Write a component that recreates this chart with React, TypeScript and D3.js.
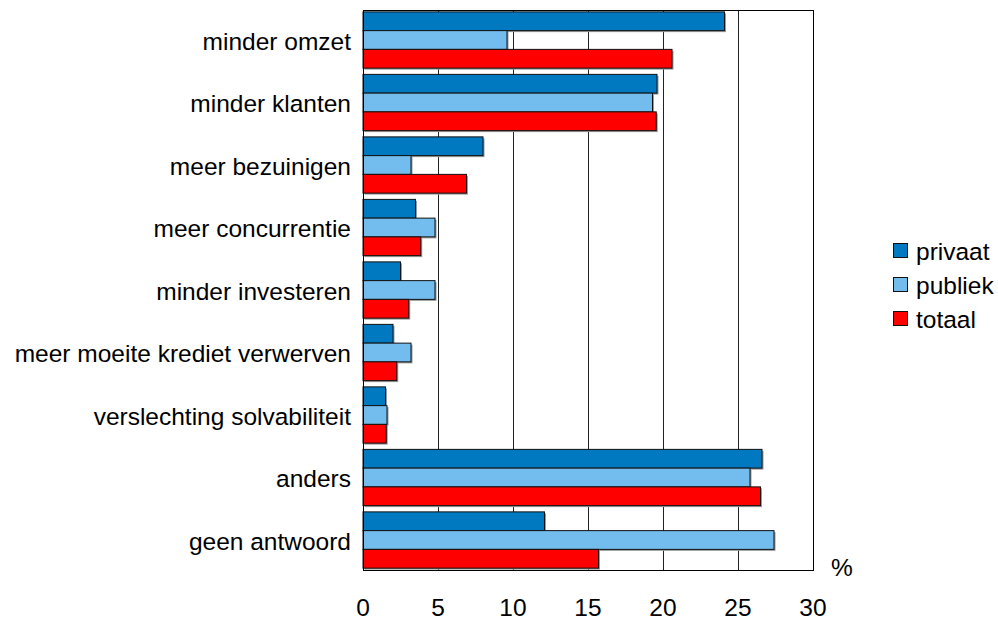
import React from "react";
import * as d3 from "d3";

const categories = [
  "minder omzet",
  "minder klanten",
  "meer bezuinigen",
  "meer concurrentie",
  "minder investeren",
  "meer moeite krediet verwerven",
  "verslechting solvabiliteit",
  "anders",
  "geen antwoord",
];
const seriesNames = ["privaat", "publiek", "totaal"];
const privaat = [24.1, 19.6, 8.0, 3.5, 2.5, 2.0, 1.5, 26.6, 12.1];
const publiek = [9.6, 19.3, 3.2, 4.8, 4.8, 3.2, 1.6, 25.8, 27.4];
const totaal = [20.6, 19.55, 6.9, 3.85, 3.05, 2.25, 1.55, 26.5, 15.7];
const xTicks = [0, 5, 10, 15, 20, 25, 30];
const colors = ["#0079C1", "#72BDED", "#FF0000"];
const unitLabel = "%";

const W = 998;
const H = 620;
const FONT = "'Liberation Sans', Arial, sans-serif";

export default function App() {
  const seriesValues = [privaat, publiek, totaal];
  const x = d3.scaleLinear().domain([0, 30]).range([363, 813]);
  const y = d3
    .scaleBand<string>()
    .domain(categories)
    .range([10, 570])
    .paddingInner(0.1)
    .paddingOuter(0.03);
  const inner = d3
    .scaleBand<string>()
    .domain(seriesNames)
    .range([0, y.bandwidth()]);
  const top = 10;
  const bottom = 570;
  const left = x(0);
  const right = x(30);

  return (
    <div style={{ position: "fixed", left: 0, top: 0, width: W, height: H, overflow: "hidden" }}>
      <svg width={W} height={H} style={{ display: "block", background: "#fff" }} fontFamily={FONT}>
        {/* gridlines */}
        {xTicks.slice(1, -1).map((t) => (
          <line
            key={"g" + t}
            x1={Math.round(x(t)) + 0.5}
            x2={Math.round(x(t)) + 0.5}
            y1={top}
            y2={bottom}
            stroke="#222"
            strokeWidth={1}
          />
        ))}
        {/* bars */}
        {categories.map((c, i) => (
          <g key={c} transform={`translate(0,${y(c)})`}>
            {seriesNames.map((s, j) => {
              const v = seriesValues[j][i];
              const by = inner(s)!;
              const bh = inner.bandwidth();
              const bw = x(v) - x(0);
              return (
                <g key={s}>
                  <rect x={left + 1.5} y={by + 1.5} width={bw} height={bh} fill="#9a9a9a" />
                  <rect
                    x={left}
                    y={by}
                    width={bw}
                    height={bh}
                    fill={colors[j]}
                    stroke="#111"
                    strokeWidth={1}
                  />
                </g>
              );
            })}
          </g>
        ))}
        {/* frame */}
        <rect
          x={left + 0.5}
          y={top + 0.5}
          width={right - left}
          height={bottom - top}
          fill="none"
          stroke="#000"
          strokeWidth={1}
        />
        {/* category labels */}
        {categories.map((c) => (
          <text
            key={"l" + c}
            x={351}
            y={y(c)! + y.bandwidth() / 2 + 1}
            textAnchor="end"
            dominantBaseline="central"
            fontSize={24.5}
            fill="#000"
          >
            {c}
          </text>
        ))}
        {/* x tick labels */}
        {xTicks.map((t) => (
          <text
            key={"t" + t}
            x={x(t)}
            y={607}
            textAnchor="middle"
            dominantBaseline="central"
            fontSize={24.5}
            fill="#000"
          >
            {t}
          </text>
        ))}
        <text x={842} y={567} textAnchor="middle" dominantBaseline="central" fontSize={24.5} fill="#000">
          {unitLabel}
        </text>
        {/* legend */}
        {seriesNames.map((s, j) => (
          <g key={"lg" + s} transform={`translate(893,${243 + j * 34})`}>
            <rect x={0.5} y={0.5} width={14} height={14} fill={colors[j]} stroke="#111" strokeWidth={1} />
            <text x={23} y={8} dominantBaseline="central" fontSize={24.5} fill="#000">
              {s}
            </text>
          </g>
        ))}
      </svg>
    </div>
  );
}
